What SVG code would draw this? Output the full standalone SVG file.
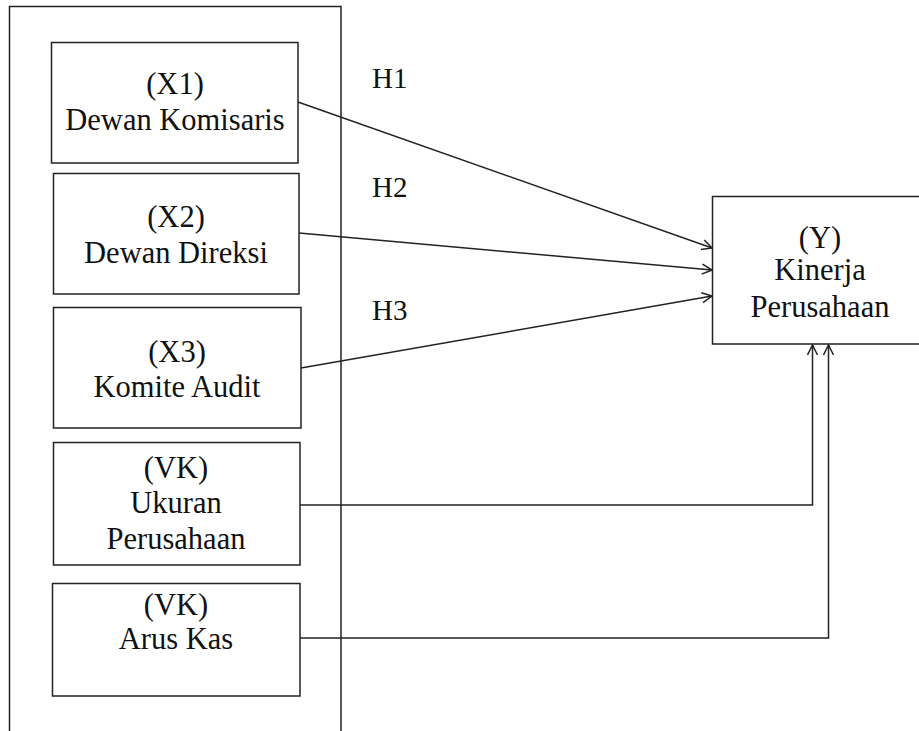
<svg xmlns="http://www.w3.org/2000/svg" width="919" height="731" viewBox="0 0 919 731">
<style>
.box{fill:#fff;stroke:#222;stroke-width:1.5}
.t{font-family:"Liberation Serif","Times New Roman",serif;font-size:30.5px;fill:#111;text-anchor:middle}
.h{font-family:"Liberation Serif","Times New Roman",serif;font-size:29px;fill:#111}
.c{fill:none;stroke:#222;stroke-width:1.5}
</style>
<defs>
<marker id="arr" markerWidth="12" markerHeight="12" refX="11" refY="6" orient="auto" markerUnits="userSpaceOnUse">
<path d="M1,1 L11,6 L1,11" fill="none" stroke="#222" stroke-width="1.5"/>
</marker>
</defs>
<rect width="919" height="731" fill="#fff"/>
<g id="outer"><rect class="box" x="9.5" y="6.5" width="331.5" height="760" fill="none"/></g>
<g id="x1"><rect class="box" x="51.5" y="42.5" width="246.5" height="120.5"/>
<text class="t" x="175" y="94">(X1)</text><text class="t" x="175" y="130">Dewan Komisaris</text></g>
<g id="x2"><rect class="box" x="53.5" y="173.5" width="245.5" height="120.5"/>
<text class="t" x="176" y="227">(X2)</text><text class="t" x="176" y="263">Dewan Direksi</text></g>
<g id="x3"><rect class="box" x="53.5" y="307.5" width="247.5" height="120.5"/>
<text class="t" x="177" y="362">(X3)</text><text class="t" x="177" y="397">Komite Audit</text></g>
<g id="vk1"><rect class="box" x="53.5" y="442.5" width="246.5" height="122.5"/>
<text class="t" x="176" y="478">(VK)</text><text class="t" x="176" y="513">Ukuran</text><text class="t" x="176" y="549">Perusahaan</text></g>
<g id="vk2"><rect class="box" x="52.5" y="583.5" width="247.5" height="112.5"/>
<text class="t" x="176" y="615">(VK)</text><text class="t" x="176" y="649">Arus Kas</text></g>
<g id="y"><rect class="box" x="712.5" y="196.5" width="220" height="147.5"/>
<text class="t" x="820" y="248">(Y)</text><text class="t" x="820" y="280">Kinerja</text><text class="t" x="820" y="317">Perusahaan</text></g>
<g id="connectors">
<line class="c" x1="298" y1="102" x2="712" y2="248" marker-end="url(#arr)"/>
<line class="c" x1="299" y1="233" x2="712" y2="270" marker-end="url(#arr)"/>
<line class="c" x1="301" y1="368" x2="712" y2="296" marker-end="url(#arr)"/>
<polyline class="c" points="300,505 812.5,505 812.5,345" marker-end="url(#arr)"/>
<polyline class="c" points="300,638 828.5,638 828.5,345" marker-end="url(#arr)"/>
</g>
<g id="labels">
<text class="h" x="372" y="88">H1</text>
<text class="h" x="372" y="197">H2</text>
<text class="h" x="372" y="320">H3</text>
</g>
</svg>
